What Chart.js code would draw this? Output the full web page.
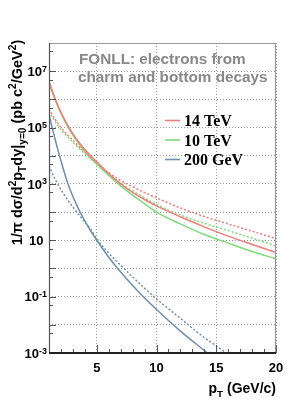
<!DOCTYPE html>
<html>
<head>
<meta charset="UTF-8">
<title>FONLL electrons from charm and bottom decays</title>
<script src="https://cdn.jsdelivr.net/npm/chart.js"></script>
<style>
  html, body { margin: 0; padding: 0; background: #fff; }
</style>
</head>
<body>
<canvas id="c" width="303" height="411"></canvas>
<script>
// pT points (GeV/c)
const ptLhc = [1, 1.5, 2, 2.5, 3, 3.5, 4, 4.5, 5, 6, 7, 8, 9, 10, 12, 14, 16, 18, 20];
const ptRhic = [1, 1.5, 2, 2.5, 3, 3.5, 4, 4.5, 5, 6, 7, 8, 9, 10, 12, 14, 14.5];
const ptRhicDot = [1, 1.5, 2, 2.5, 3, 3.5, 4, 4.5, 5, 6, 7, 8, 9, 10, 12, 14, 15, 16];

// cross sections (pb c^2/GeV^2)
const tev14    = [4.4e6, 1.1e6, 3.5e5, 1.35e5, 6.0e4, 3.0e4, 1.66e4, 9.8e3, 6.0e3, 2.3e3, 1.0e3, 500, 280, 166, 68, 30, 14, 7.1, 3.7];
const tev14Dot = [4.6e5, 2.0e5, 1.0e5, 5.8e4, 3.5e4, 2.1e4, 1.35e4, 8.7e3, 5.8e3, 2.5e3, 1.3e3, 800, 490, 320, 140, 70, 38, 21, 11.5];
const tev10    = [3.8e6, 1.0e6, 3.2e5, 1.2e5, 5.4e4, 2.6e4, 1.4e4, 8.3e3, 5.0e3, 2.0e3, 850, 400, 200, 100, 38, 16, 7.9, 4.0, 2.2];
const tev10Dot = [3.8e5, 1.66e5, 8.5e4, 4.9e4, 3.0e4, 1.86e4, 1.17e4, 7.6e3, 5.0e3, 2.2e3, 1.05e3, 560, 320, 186, 79, 40, 22, 12, 6.3];
const gev200    = [2.9e5, 4.0e4, 6.6e3, 1.3e3, 355, 123, 49, 21, 10, 2.5, 0.75, 0.25, 0.089, 0.035, 6.0e-3, 1.23e-3, 8.3e-4];
const gev200Dot = [4.4e3, 1.5e3, 630, 295, 151, 81, 44, 24, 11.2, 3.5, 1.3, 0.5, 0.2, 0.083, 0.017, 3.5e-3, 1.8e-3, 8.9e-4];

const legendLabels = ['14 TeV', '10 TeV', '200 GeV'];
const titleLines = ['FONLL: electrons from', 'charm and bottom decays'];
const xTickValues = [5, 10, 15, 20];
const xMinorTicks = [2, 3, 4, 6, 7, 8, 9, 11, 12, 13, 14, 16, 17, 18, 19];
const yDecades = [-3, -2, -1, 0, 1, 2, 3, 4, 5, 6, 7, 8];
const yLabelExps = [7, 5, 3, 1, -1, -3];

const RED = '#ef7d7a', GREEN = '#7edb7a', BLUE = '#6f8fae';
const SANS = '"Liberation Sans", Arial, sans-serif';
const SERIF = '"Liberation Serif", "Times New Roman", serif';

function pts(xs, ys) { return xs.map((x, i) => ({ x: x, y: ys[i] })); }

function line(data, color, dotted) {
  return {
    data: data,
    borderColor: color,
    borderWidth: 1.5,
    borderDash: dotted ? [2, 2] : [],
    pointRadius: 0,
    fill: false,
    cubicInterpolationMode: 'monotone'
  };
}

// draws text with ^sup and _sub pieces, x = left, y = baseline
function richWidth(ctx, parts, size) {
  let w = 0;
  parts.forEach(p => {
    ctx.font = 'bold ' + (p.s ? size * 0.7 : size) + 'px ' + SANS;
    w += ctx.measureText(p.t).width;
  });
  return w;
}
function drawRich(ctx, parts, x, y, size) {
  parts.forEach(p => {
    const fs = p.s ? size * 0.7 : size;
    ctx.font = 'bold ' + fs + 'px ' + SANS;
    const dy = p.s === 'sup' ? -size * 0.42 : (p.s === 'sub' ? size * 0.3 : 0);
    ctx.fillText(p.t, x, y + dy);
    x += ctx.measureText(p.t).width;
  });
}

const decor = {
  id: 'decor',
  afterDatasetsDraw(chart) {
    const { ctx, chartArea: a, scales: { x, y } } = chart;
    ctx.save();
    ctx.setLineDash([]);

    // inner tick marks
    ctx.strokeStyle = '#555';
    ctx.lineWidth = 1;
    ctx.beginPath();
    yDecades.forEach(e => {
      const py = Math.round(y.getPixelForValue(Math.pow(10, e))) + 0.5;
      ctx.moveTo(a.left, py); ctx.lineTo(a.left + 7, py);
      const pm = Math.round(y.getPixelForValue(5 * Math.pow(10, e - 1))) + 0.5;
      if (e > -3) { ctx.moveTo(a.left, pm); ctx.lineTo(a.left + 4, pm); }
    });
    xTickValues.forEach(v => {
      const px = Math.round(x.getPixelForValue(v)) + 0.5;
      ctx.moveTo(px, a.bottom); ctx.lineTo(px, a.bottom - 8);
    });
    xMinorTicks.forEach(v => {
      const px = Math.round(x.getPixelForValue(v)) + 0.5;
      ctx.moveTo(px, a.bottom); ctx.lineTo(px, a.bottom - 4);
    });
    ctx.stroke();

    // frame
    ctx.lineWidth = 1.2;
    ctx.strokeStyle = '#999';
    ctx.beginPath();
    ctx.moveTo(a.left, a.top + 0.5); ctx.lineTo(a.right - 0.5, a.top + 0.5); ctx.lineTo(a.right - 0.5, a.bottom);
    ctx.stroke();
    ctx.strokeStyle = '#555';
    ctx.beginPath();
    ctx.moveTo(a.left + 0.5, a.top); ctx.lineTo(a.left + 0.5, a.bottom);
    ctx.stroke();
    ctx.strokeStyle = '#222';
    ctx.lineWidth = 2;
    ctx.beginPath();
    ctx.moveTo(a.left, a.bottom); ctx.lineTo(a.right, a.bottom);
    ctx.stroke();

    // y tick labels
    ctx.fillStyle = '#000';
    ctx.textBaseline = 'alphabetic';
    yLabelExps.forEach(e => {
      const py = y.getPixelForValue(Math.pow(10, e));
      ctx.font = 'bold 13px ' + SANS;
      if (e === 1) {
        ctx.textAlign = 'right';
        ctx.fillText('10', 43.5, py + 4.8);
        return;
      }
      const sup = String(e);
      ctx.font = 'bold 9px ' + SANS;
      const sw = ctx.measureText(sup).width;
      ctx.textAlign = 'left';
      ctx.fillText(sup, 47 - sw, py + 0.5);
      ctx.font = 'bold 13px ' + SANS;
      ctx.textAlign = 'right';
      ctx.fillText('10', 47 - sw, py + 4.8);
    });

    // x tick labels
    ctx.font = 'bold 13px ' + SANS;
    ctx.textAlign = 'center';
    xTickValues.forEach(v => {
      ctx.fillText(String(v), x.getPixelForValue(v), 372);
    });

    // x title
    ctx.textAlign = 'left';
    const xt = [{ t: 'p' }, { t: 'T', s: 'sub' }, { t: ' (GeV/c)' }];
    drawRich(ctx, xt, a.right - richWidth(ctx, xt, 14), 393, 14);

    // y title
    const yt = [
      { t: '1/\u03c0 d\u03c3/d' }, { t: '2', s: 'sup' }, { t: 'p' }, { t: 'T', s: 'sub' },
      { t: 'dy|' }, { t: 'y=0', s: 'sub' }, { t: ' (pb c' }, { t: '2', s: 'sup' },
      { t: '/GeV' }, { t: '2', s: 'sup' }, { t: ')' }
    ];
    const yw = richWidth(ctx, yt, 14.5);
    ctx.save();
    ctx.translate(22, 142.5);
    ctx.rotate(-Math.PI / 2);
    drawRich(ctx, yt, -yw / 2, 0, 14.5);
    ctx.restore();

    // annotation
    ctx.fillStyle = '#888';
    ctx.font = 'bold 15.3px ' + SANS;
    ctx.textAlign = 'left';
    ctx.fillText(titleLines[0], 79, 63.5);
    ctx.fillText(titleLines[1], 78, 82);

    // legend
    const cols = [RED, GREEN, BLUE];
    legendLabels.forEach((lab, i) => {
      const yc = 120.5 + i * 19.5;
      ctx.strokeStyle = cols[i];
      ctx.lineWidth = 1.6;
      ctx.beginPath();
      ctx.moveTo(165, yc); ctx.lineTo(180, yc);
      ctx.stroke();
      ctx.fillStyle = '#000';
      ctx.font = 'bold 16px ' + SERIF;
      ctx.fillText(lab, 184, yc + 5.5);
    });

    ctx.restore();
  }
};

new Chart(document.getElementById('c'), {
  type: 'line',
  data: {
    datasets: [
      line(pts(ptLhc, tev14), RED, false),
      line(pts(ptLhc, tev14Dot), RED, true),
      line(pts(ptLhc, tev10), GREEN, false),
      line(pts(ptLhc, tev10Dot), GREEN, true),
      line(pts(ptRhic, gev200), BLUE, false),
      line(pts(ptRhicDot, gev200Dot), BLUE, true)
    ]
  },
  options: {
    responsive: false,
    devicePixelRatio: 1,
    animation: false,
    layout: { padding: { top: 43, right: 27, left: 0, bottom: 0 } },
    plugins: { legend: { display: false }, tooltip: { enabled: false } },
    scales: {
      x: {
        type: 'linear',
        min: 1,
        max: 20,
        afterBuildTicks: s => { s.ticks = xTickValues.map(v => ({ value: v })); },
        afterFit: s => { s.height = 58; },
        ticks: { display: false },
        grid: { drawTicks: false, color: '#9a9a9a', lineWidth: 1 },
        border: { display: false, dash: [1, 2] }
      },
      y: {
        type: 'logarithmic',
        min: 1e-3,
        max: 1e8,
        afterBuildTicks: s => { s.ticks = yDecades.map(e => ({ value: Math.pow(10, e) })); },
        afterFit: s => { s.width = 49; },
        ticks: { display: false },
        grid: { drawTicks: false, color: '#9a9a9a', lineWidth: 1 },
        border: { display: false, dash: [1, 2] }
      }
    }
  },
  plugins: [decor]
});
</script>
</body>
</html>
